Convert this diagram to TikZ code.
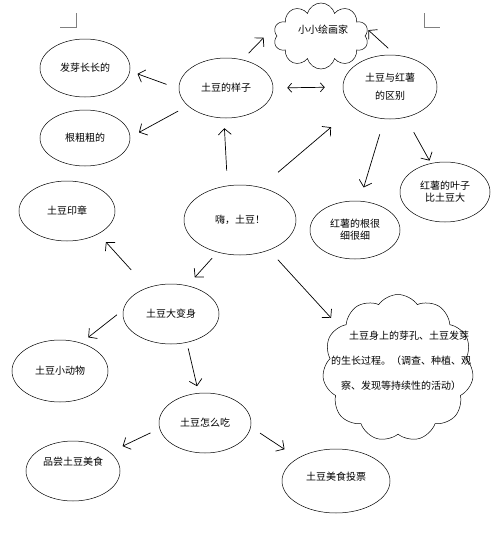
\documentclass[tikz,border=0pt]{standalone}
\usepackage{fontspec}
\setmainfont{Noto Sans CJK SC}
\usetikzlibrary{shapes.geometric,shapes.symbols,arrows.meta,positioning}

\tikzset{
  oval/.style={draw, ellipse, line width=0.5pt, inner sep=0pt, align=center,
    font=\fontsize{10pt}{12pt}\selectfont},
  nuvem/.style={draw, cloud, cloud ignores aspect, line width=0.5pt, inner sep=0pt,
    font=\fontsize{10pt}{12pt}\selectfont},
  seta/.style={-{Straight Barb[length=6pt,width=13pt]}, line width=0.7pt},
  dupla/.style={{Straight Barb[length=4pt,width=9pt]}-{Straight Barb[length=4pt,width=9pt]}, line width=0.7pt},
}

\begin{document}
\begin{tikzpicture}[x=1pt,y=-1pt]
    \useasboundingbox (0,0) rectangle (500,533);

    % marcas de corte
    \draw[gray, line width=0.4pt] (60,27) -- (76,27) -- (76,13);
    \draw[gray, line width=0.4pt] (424,13) -- (424,27) -- (440,27);

    % elipses
    \foreach \nome/\x/\y/\w/\h/\texto in {fayazhang/85/68/90/58/发芽长长的,
        genci/85/138/90/56/根粗粗的, yangzi/226/88/94/60/土豆的样子,
        qubie/390/87/94/64/{土豆与红薯\\[6pt]的区别}, yezi/445/192/90/60/{红薯的叶子\\比土豆大},
        genxi/355/230/90/58/{红薯的根很\\细很细}, hi/240/220/112/70/嗨，土豆！,
        yinzhang/67/211/96/60/土豆印章, bianshen/171/314/96/60/土豆大变身,
        dongwu/60/371/96/62/土豆小动物, zenmechi/205/423/92/60/土豆怎么吃} {
      \node[oval, minimum width=\w pt, minimum height=\h pt] (\nome) at (\x,\y) {\texto};
    }
    \node[oval, minimum width=94pt, minimum height=60pt,
      label={[font=\fontsize{10pt}{12pt}\selectfont, yshift=9pt]center:品尝土豆美食}] (pinchang) at (73,471) {};
    \node[oval, minimum width=108pt, minimum height=64pt,
      label={[font=\fontsize{10pt}{12pt}\selectfont, yshift=4pt]center:土豆美食投票}] (toupiao) at (336,481) {};

    % nuvens
    \node[nuvem, cloud puffs=10, minimum width=95pt, minimum height=66pt,
      label={[font=\fontsize{10pt}{12pt}\selectfont, yshift=6pt, xshift=2pt]center:小小绘画家}] (huajia) at (321,36) {};
    \node[nuvem, cloud puffs=11, cloud puff arc=110, minimum width=151pt, minimum height=147pt,
      label={[font=\fontsize{10pt}{25pt}\selectfont, align=left, yshift=7pt, xshift=3pt]center:
        \hspace{18pt}土豆身上的芽孔、土豆发芽\\的生长过程。（调查、种植、观\\\hspace{10pt}察、发现等持续性的活动）}] (yunduo) at (398,368) {};

    % setas
    \draw[seta, shorten <=13pt, shorten >=8pt] (yangzi.181) -- (fayazhang.-4);
    \draw[seta, shorten <=11pt, shorten >=10pt] (yangzi.205) -- (genci.1);
    \draw[seta, shorten <=15pt, shorten >=10pt] (hi.110) -- (yangzi.266);
    \draw[seta, shorten <=9pt, shorten >=18pt] (yangzi.60) -- (huajia.166);
    \draw[dupla, shorten <=14pt, shorten >=18pt] (yangzi.east) -- (qubie.west);
    \draw[seta, shorten <=10pt, shorten >=1pt] (qubie.80) -- (huajia.8);
    \draw[seta, shorten <=23pt, shorten >=30pt] (hi.58) -- (qubie.210);
    \draw[seta, shorten <=16pt, shorten >=14pt] (qubie.260) -- (genxi.81);
    \draw[seta, shorten <=17pt, shorten >=3pt] (qubie.-63) -- (yezi.116);
    \draw[seta, shorten <=8pt, shorten >=11pt] (hi.235) -- (bianshen.60);
    \draw[seta, shorten <=24pt, shorten >=11pt] (bianshen.132) -- (yinzhang.-36);
    \draw[seta, shorten <=8pt, shorten >=9pt] (bianshen.175) -- (dongwu.53);
    \draw[seta, shorten <=13pt, shorten >=12pt] (hi.-46) -- (yunduo.145);
    \draw[seta, shorten <=6pt, shorten >=7pt] (bianshen.-61) -- (zenmechi.102);
    \draw[seta, shorten <=10pt, shorten >=14pt] (zenmechi.187) -- (pinchang.27);
    \draw[seta, shorten <=11pt, shorten >=16pt] (zenmechi.-5) -- (toupiao.149);

\end{tikzpicture}
\end{document}
